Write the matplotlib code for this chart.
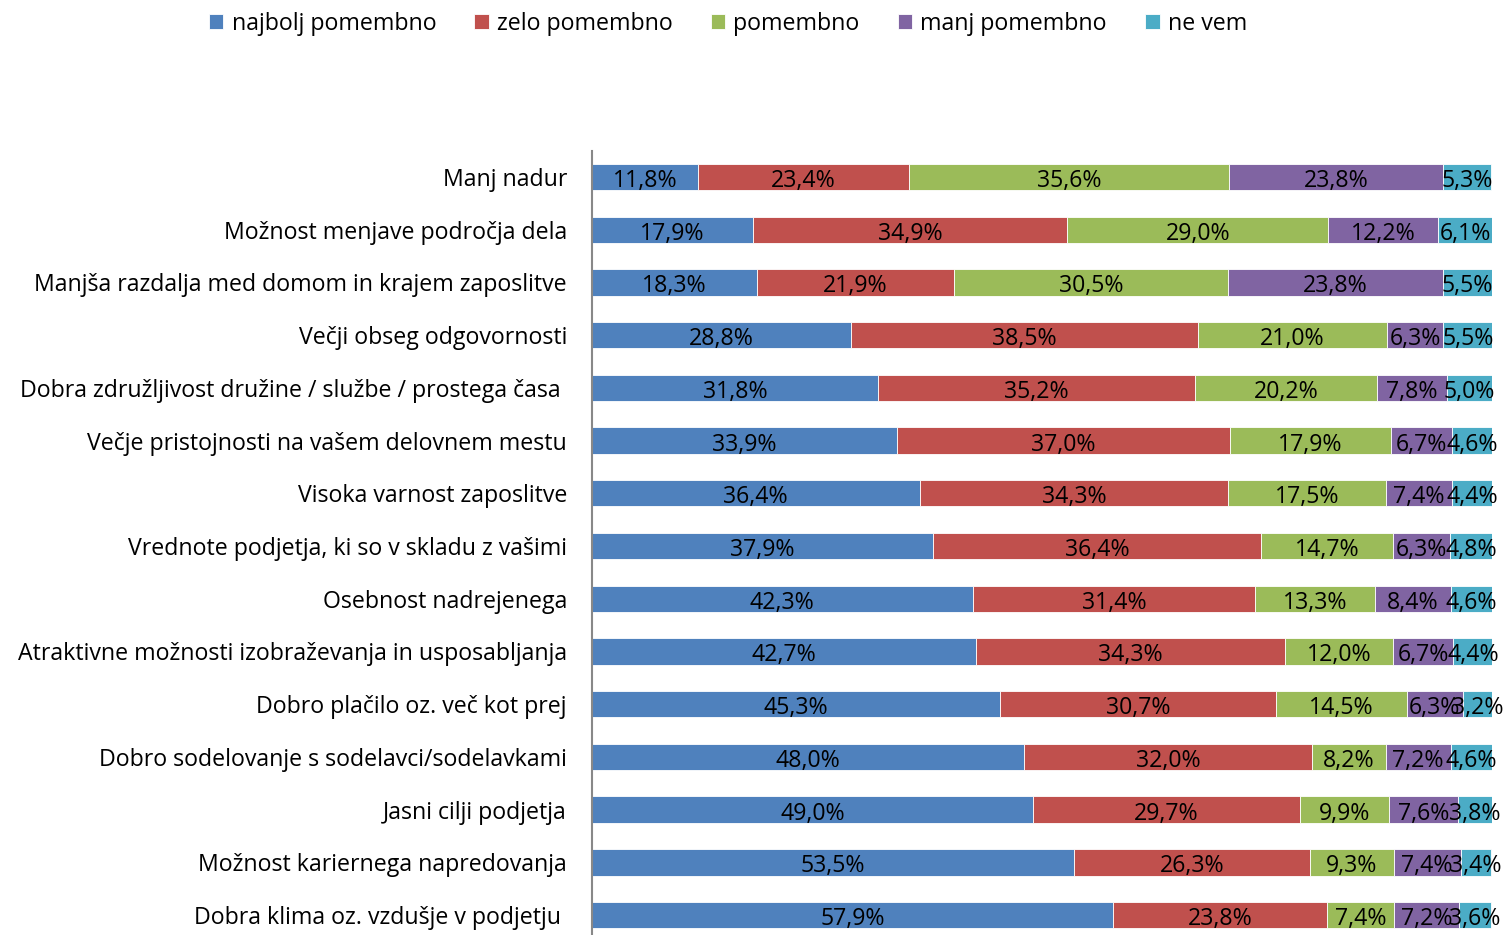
import matplotlib
matplotlib.use("Agg")
import matplotlib.pyplot as plt
import numpy as np

plt.rcParams['font.family'] = ['Open Sans', 'DejaVu Sans']

categories = [
    "Manj nadur",
    "Možnost menjave področja dela",
    "Manjša razdalja med domom in krajem zaposlitve",
    "Večji obseg odgovornosti",
    "Dobra združljivost družine / službe / prostega časa ",
    "Večje pristojnosti na vašem delovnem mestu",
    "Visoka varnost zaposlitve",
    "Vrednote podjetja, ki so v skladu z vašimi",
    "Osebnost nadrejenega",
    "Atraktivne možnosti izobraževanja in usposabljanja",
    "Dobro plačilo oz. več kot prej",
    "Dobro sodelovanje s sodelavci/sodelavkami",
    "Jasni cilji podjetja",
    "Možnost kariernega napredovanja",
    "Dobra klima oz. vzdušje v podjetju ",
]
series_names = ["najbolj pomembno", "zelo pomembno", "pomembno", "manj pomembno", "ne vem"]
najbolj = [11.8, 17.9, 18.3, 28.8, 31.8, 33.9, 36.4, 37.9, 42.3, 42.7, 45.3, 48.0, 49.0, 53.5, 57.9]
zelo = [23.4, 34.9, 21.9, 38.5, 35.2, 37.0, 34.3, 36.4, 31.4, 34.3, 30.7, 32.0, 29.7, 26.3, 23.8]
pomembno = [35.6, 29.0, 30.5, 21.0, 20.2, 17.9, 17.5, 14.7, 13.3, 12.0, 14.5, 8.2, 9.9, 9.3, 7.4]
manj = [23.8, 12.2, 23.8, 6.3, 7.8, 6.7, 7.4, 6.3, 8.4, 6.7, 6.3, 7.2, 7.6, 7.4, 7.2]
ne_vem = [5.3, 6.1, 5.5, 5.5, 5.0, 4.6, 4.4, 4.8, 4.6, 4.4, 3.2, 4.6, 3.8, 3.4, 3.6]
colors = ["#4F81BD", "#C0504D", "#9BBB59", "#8064A2", "#4BACC6"]

data = [najbolj, zelo, pomembno, manj, ne_vem]
FS = 16.7

fig = plt.figure(figsize=(15.06, 9.35), dpi=100)
ax = fig.add_axes([592/1506, (935-941.4)/935, 900/1506, (941.4-150.6)/935])

y = np.arange(len(categories))
left = np.zeros(len(categories))
for vals, name, col in zip(data, series_names, colors):
    vals = np.array(vals)
    ax.barh(y, vals, left=left, height=0.5, color=col, label=name,
            edgecolor='white', linewidth=0.6)
    for yi, l, v in zip(y, left, vals):
        ax.text(l + v/2, yi + 0.19, f"{v:.1f}%".replace('.', ','), ha='center',
                va='baseline', fontsize=FS, color='black')
    left += vals

ax.set_xlim(0, 100)
ax.set_ylim(len(categories)-0.5, -0.5)
ax.set_yticks(y)
ax.set_yticklabels(categories, fontsize=FS)
ax.tick_params(axis='y', length=0, pad=18)
ax.set_xticks([])
for s in ['top', 'right', 'bottom']:
    ax.spines[s].set_visible(False)
ax.spines['left'].set_color('#888888')
ax.spines['left'].set_linewidth(1.5)

handles, labels = ax.get_legend_handles_labels()
fig.legend(handles, labels, loc='center', bbox_to_anchor=(728/1506, 1-24/935), ncol=5,
           frameon=False, fontsize=FS, handlelength=0.62, handleheight=0.62,
           handletextpad=0.35, columnspacing=1.65)

fig.savefig("out.png", dpi=100)
